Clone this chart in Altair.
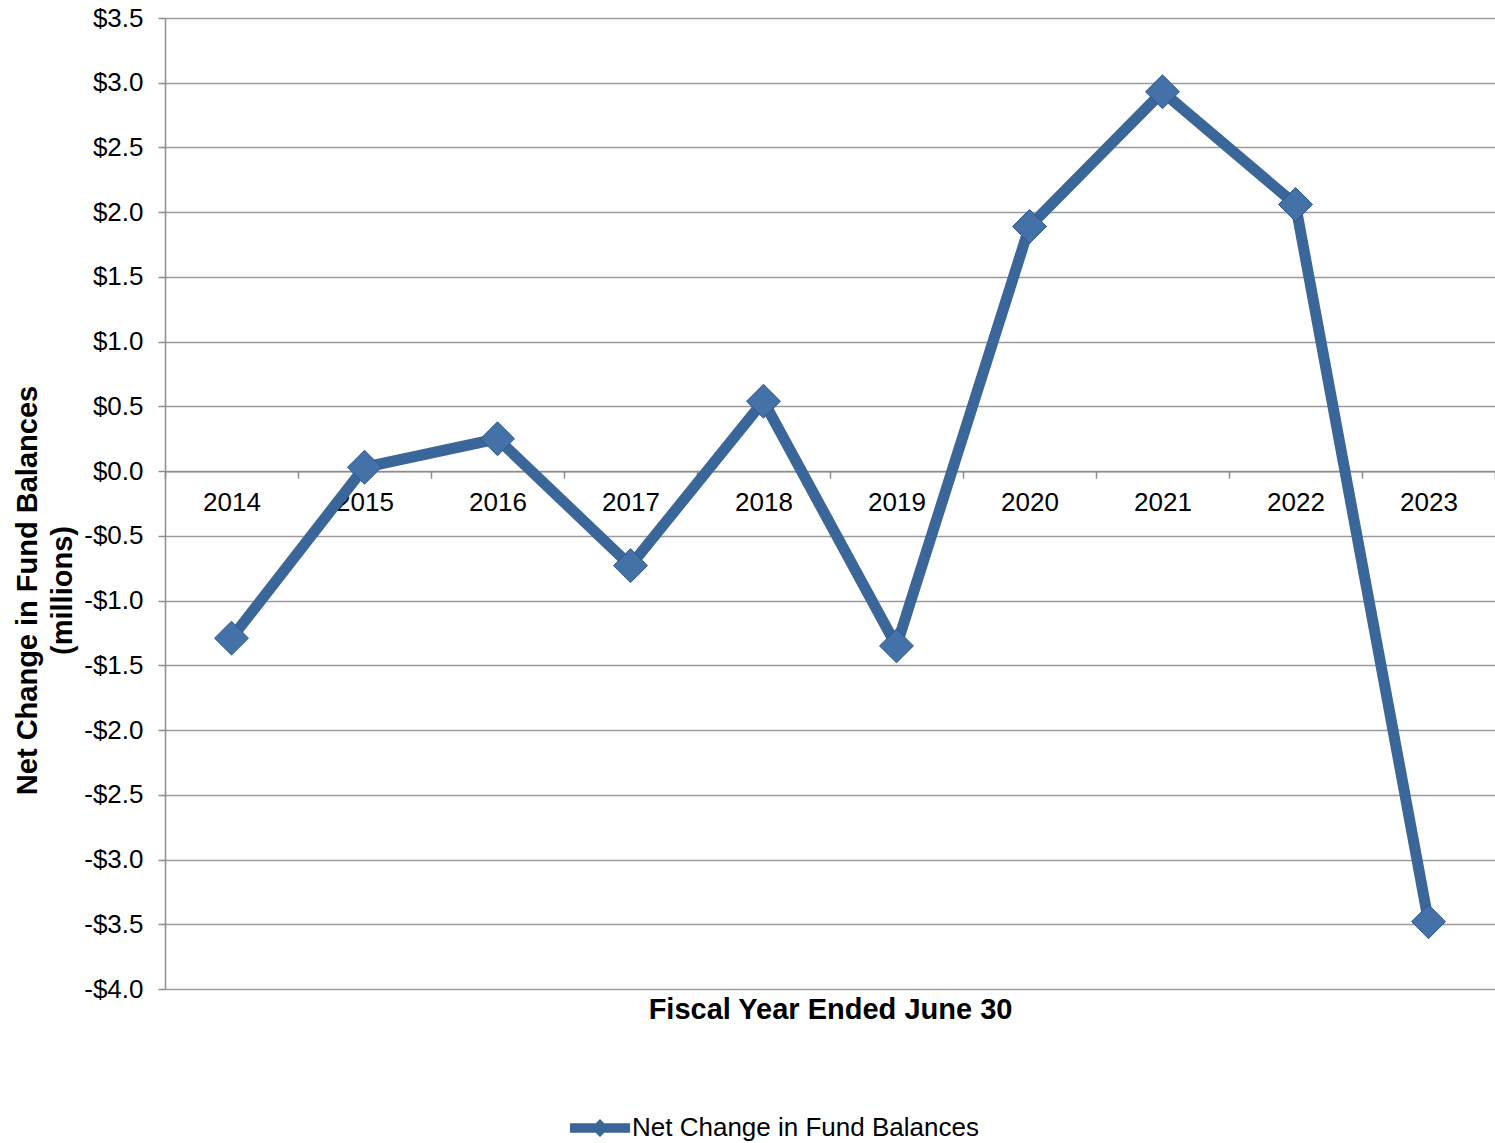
import altair as alt
import pandas as pd

years = ["2014", "2015", "2016", "2017", "2018", "2019", "2020", "2021", "2022", "2023"]
values = [-1.29, 0.03, 0.25, -0.73, 0.54, -1.35, 1.89, 2.93, 2.06, -3.48]
series_name = "Net Change in Fund Balances"
y_ticks = [-4.0, -3.5, -3.0, -2.5, -2.0, -1.5, -1.0, -0.5, 0.0, 0.5, 1.0, 1.5, 2.0, 2.5, 3.0, 3.5]

df = pd.DataFrame({"year": years, "value": values, "series": [series_name] * len(years)})

LINE = "#3A6699"
FONT = "Liberation Sans"
W, H = 1330, 971
zero_from_bottom = H * 4.0 / 7.5

x_main = alt.X(
    "year:N",
    sort=years,
    scale=alt.Scale(paddingInner=0, paddingOuter=0),
    axis=alt.Axis(
        title=None,
        orient="bottom",
        labelAngle=0,
        labelFontSize=26,
        labelFont=FONT,
        labelColor="#000000",
        labelPadding=11,
        tickSize=7,
        tickBand="extent",
        tickColor="#8C8C8C",
        tickWidth=1.5,
        domain=True,
        domainColor="#8C8C8C",
        domainWidth=1.5,
        grid=False,
        offset=-zero_from_bottom,
    ),
)

y_enc = alt.Y(
    "value:Q",
    scale=alt.Scale(domain=[-4.0, 3.5], nice=False, zero=False),
    axis=alt.Axis(
        values=y_ticks,
        labelExpr="(datum.value < 0 ? '-' : '') + '$' + format(abs(datum.value), '.1f')",
        labelFontSize=26,
        labelFont=FONT,
        labelColor="#000000",
        labelPadding=15,
        tickSize=7,
        tickColor="#8C8C8C",
        tickWidth=1.5,
        domainColor="#8C8C8C",
        domainWidth=1.5,
        grid=True,
        gridColor="#9A9A9A",
        gridWidth=1.5,
        title=["Net Change in Fund Balances", "(millions)"],
        titleFont=FONT,
        titleFontSize=29,
        titleFontWeight="bold",
        titleColor="#000000",
        titleAngle=-90,
        titleAlign="center",
        titleBaseline="top",
        titleX=-152,
        titleY=572,
        titleLineHeight=35,
    ),
)

legend_path = "M-1,-0.16L1,-0.16L1,0.16L-1,0.16Z M0,-0.3L0.3,0L0,0.3L-0.3,0Z"

line = alt.Chart(df).mark_line(strokeWidth=11, color=LINE).encode(
    x=x_main,
    y=y_enc,
    color=alt.Color(
        "series:N",
        scale=alt.Scale(range=[LINE]),
        legend=alt.Legend(
            title=None,
            orient="none",
            legendX=405,
            legendY=1080,
            symbolType=legend_path,
            symbolSize=3600,
            symbolFillColor=LINE,
            symbolStrokeWidth=0,
            labelFontSize=26,
            labelFont=FONT,
            labelColor="#000000",
            labelOffset=2,
            labelLimit=0,
        ),
    ),
)

points = alt.Chart(df).mark_point(
    shape="diamond", size=1150, filled=True, fill="#4472A8", stroke="#2F5587", strokeWidth=1, opacity=1
).encode(
    x=alt.X("year:N", sort=years, axis=None),
    y=alt.Y("value:Q"),
)

title_layer = alt.Chart(df).mark_point(opacity=0).encode(
    x=alt.X(
        "year:N",
        sort=years,
        axis=alt.Axis(
            title="Fiscal Year Ended June 30",
            orient="bottom",
            titleFont=FONT,
            titleFontSize=29,
            titleFontWeight="bold",
            titleColor="#000000",
            titlePadding=6,
            labels=False,
            ticks=False,
            domain=False,
            grid=False,
        ),
    ),
    y=alt.Y("value:Q"),
)

chart = (
    alt.layer(line, points, title_layer)
    .resolve_axis(x="independent")
    .properties(
        width=W,
        height=H,
        autosize=alt.AutoSizeParams(type="none"),
        padding={"left": 165, "top": 18, "right": 0, "bottom": 154},
        background="#FFFFFF",
    )
    .configure_view(stroke=None)
)

chart.save("out.html", embed_options={"renderer": "svg", "actions": False})
